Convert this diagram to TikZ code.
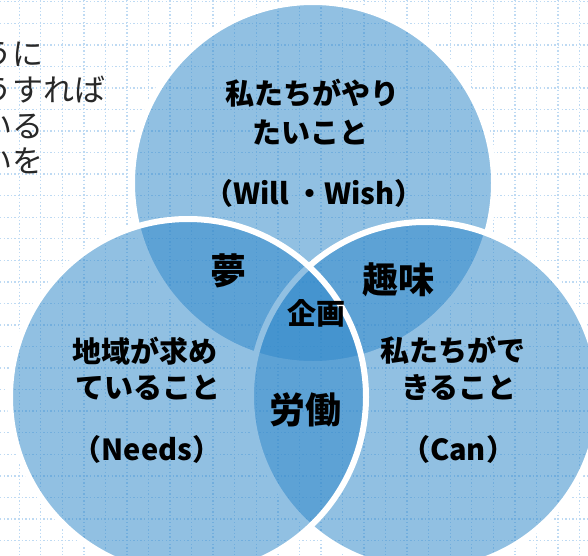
\documentclass[tikz,border=0pt]{standalone}
\usepackage{fontspec}
\setmainfont{Noto Sans CJK JP}
\newfontfamily\jp{Noto Sans CJK JP}
\definecolor{gridblue}{RGB}{190,218,243}
\definecolor{vennblue}{RGB}{48,136,202}
\definecolor{txtgray}{RGB}{40,40,40}
\tikzset{
  gridline/.style={gridblue, line width=1.4pt, dash pattern=on 1.4pt off 2.2pt},
  venn/.style={fill=vennblue, fill opacity=0.53, draw=white, draw opacity=1, line width=6pt},
  lab/.style={font=\jp\bfseries\fontsize{29}{29}\selectfont, inner sep=0pt, text=black},
  big/.style={font=\jp\bfseries\fontsize{36}{36}\selectfont, inner sep=0pt, text=black},
  mid/.style={font=\jp\bfseries\fontsize{29}{29}\selectfont, inner sep=0pt, text=black},
  side/.style={font=\jp\fontsize{31}{31}\selectfont, inner sep=0pt, text=txtgray, anchor=west}
}
\begin{document}
\begin{tikzpicture}[x=1pt, y=-1pt]
\useasboundingbox (0,0) rectangle (588,555);
\clip (0,0) rectangle (588,555);
\fill[white] (0,0) rectangle (588,555);
% dotted grid
\foreach \i in {0,...,27} {
  \draw[gridline] ({19.2+21.55*\i},0) -- ({19.2+21.55*\i},555);
}
\foreach \j in {0,...,26} {
  \draw[gridline] (0,{1.7+21.55*\j}) -- (588,{1.7+21.55*\j});
}
% side text (cut at the left edge, as in the reference)
\node[side] (s1) at (-19,54) {うに};
\node[side] (s2) at (-19,90) {うすれば};
\node[side] (s3) at (-19,126) {いる};
\node[side] (s4) at (-19,161) {いを};
% circles
\path[venn] (313,183) circle[radius=181pt];
\path[venn] (425,396) circle[radius=174pt];
\path[venn] (188,397) circle[radius=178pt];
% labels
\node[lab] (w1) at (312,93.5) {私たちがやり};
\node[lab] (w2) at (310,132) {たいこと};
\node[lab] (w3) at (314,193) {（Will ・Wish）};
\node[lab] (n1) at (145,351) {地域が求め};
\node[lab] (n2) at (148,388) {ていること};
\node[lab] (n3) at (147,449) {（Needs）};
\node[lab] (c1) at (453,350) {私たちがで};
\node[lab] (c2) at (459,388) {きること};
\node[lab] (c3) at (458,449) {（Can）};
\node[big] (yume) at (228,271) {夢};
\node[big] (shumi) at (398,280) {趣味};
\node[mid] (kikaku) at (316,313) {企画};
\node[big] (roudou) at (305,410) {労働};
\end{tikzpicture}
\end{document}
